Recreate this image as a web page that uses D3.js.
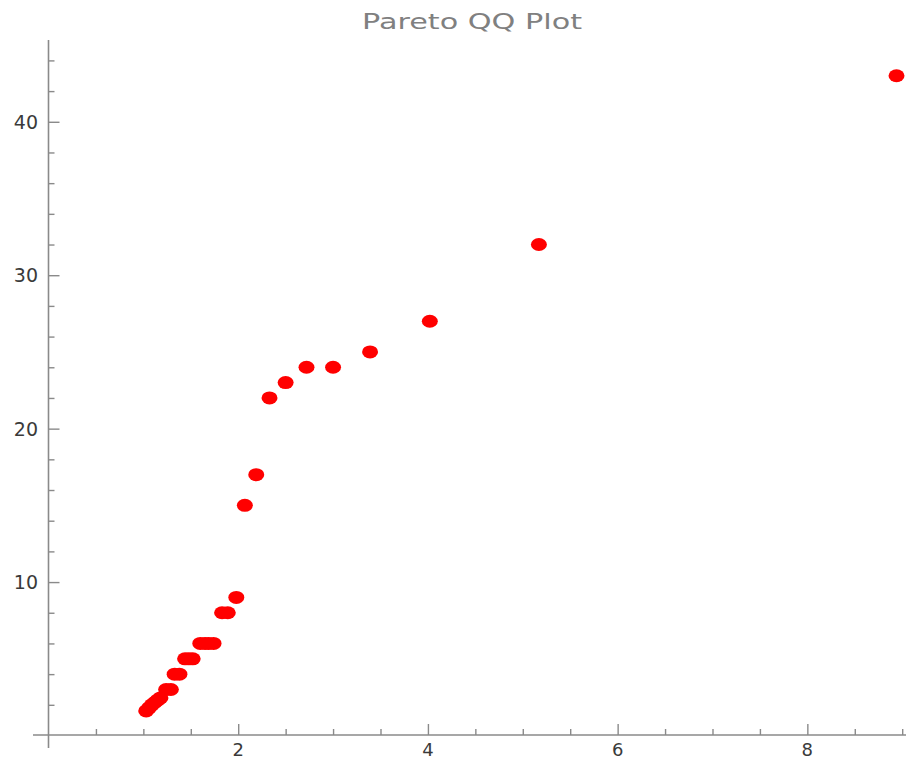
<!DOCTYPE html>
<html>
<head>
<meta charset="utf-8">
<script src="https://cdn.jsdelivr.net/npm/d3@7"></script>
<style>
  html, body { margin: 0; padding: 0; background: #fff; }
  svg { display: block; }
</style>
</head>
<body>
<svg id="chart" width="906" height="760"></svg>
<script>
// ---- data (theoretical Pareto quantile, sample value) ----
const title = "Pareto QQ Plot";
const quantiles = [8.94, 5.17, 4.02, 3.39, 3.0, 2.72, 2.5, 2.33, 2.19, 2.07, 1.98, 1.89, 1.83,
                   1.74, 1.69, 1.65, 1.60, 1.52, 1.48, 1.44, 1.38, 1.33, 1.29, 1.24,
                   1.18, 1.15, 1.12, 1.09, 1.06, 1.03];
const samples   = [43, 32, 27, 25, 24, 24, 23, 22, 17, 15, 9, 8, 8,
                   6, 6, 6, 6, 5, 5, 5, 4, 4, 3, 3,
                   2.45, 2.3, 2.15, 2.0, 1.8, 1.6];
const xTicks = [2, 4, 6, 8];
const yTicks = [10, 20, 30, 40];

const svg = d3.select("#chart");
const x = d3.scaleLinear().domain([0, 9.04]).range([48.5, 906]);
const y = d3.scaleLinear().domain([0, 45.2]).range([735.5, 42]);

const axisColor = "#8a8a8a";
const labelColor = "#3a3a3a";

// x axis line (extends a bit left of the y axis)
svg.append("line").attr("x1", 33).attr("x2", 906)
  .attr("y1", 735).attr("y2", 735)
  .attr("stroke", axisColor).attr("stroke-width", 1.6);
// y axis line (extends a bit below x axis)
svg.append("line").attr("x1", x(0)).attr("x2", x(0))
  .attr("y1", 748).attr("y2", 40)
  .attr("stroke", axisColor).attr("stroke-width", 1.6);

// x ticks (inward = upward)
const xMinor = d3.range(0.5, 9.01, 0.5).filter(v => !xTicks.includes(v));
const xAxisMajor = d3.axisTop(x).tickValues(xTicks).tickSize(11).tickFormat("");
const xAxisMinor = d3.axisTop(x).tickValues(xMinor).tickSize(6).tickFormat("");
[xAxisMajor, xAxisMinor].forEach(ax => {
  const g = svg.append("g").attr("transform", `translate(0,735)`).call(ax);
  g.select(".domain").remove();
  g.selectAll("line").attr("stroke", axisColor).attr("stroke-width", 1.4);
});
svg.append("g").selectAll("text").data(xTicks).join("text")
  .attr("x", d => x(d)).attr("y", 756)
  .attr("text-anchor", "middle")
  .attr("font-family", "DejaVu Sans, sans-serif").attr("font-size", 18)
  .attr("fill", labelColor)
  .text(d => d);

// y ticks (inward = rightward)
const yMinor = d3.range(2, 45.01, 2).filter(v => !yTicks.includes(v));
const yAxisMajor = d3.axisRight(y).tickValues(yTicks).tickSize(11).tickFormat("");
const yAxisMinor = d3.axisRight(y).tickValues(yMinor).tickSize(6).tickFormat("");
[yAxisMajor, yAxisMinor].forEach(ax => {
  const g = svg.append("g").attr("transform", `translate(${x(0)},0)`).call(ax);
  g.select(".domain").remove();
  g.selectAll("line").attr("stroke", axisColor).attr("stroke-width", 1.4);
});
svg.append("g").selectAll("text").data(yTicks).join("text")
  .attr("x", 38).attr("y", d => y(d) + 7)
  .attr("text-anchor", "end")
  .attr("font-family", "DejaVu Sans, sans-serif").attr("font-size", 19)
  .attr("fill", labelColor)
  .text(d => d);

// title
svg.append("text")
  .attr("x", 472).attr("y", 29)
  .attr("text-anchor", "middle")
  .attr("font-family", "DejaVu Sans, sans-serif").attr("font-size", 22)
  .attr("fill", "#808080")
  .attr("textLength", 220).attr("lengthAdjust", "spacingAndGlyphs")
  .text(title);

// points
const pts = quantiles.map((q, i) => ({ q, s: samples[i] }));
svg.append("g").selectAll("ellipse").data(pts).join("ellipse")
  .attr("cx", d => x(d.q)).attr("cy", d => y(d.s))
  .attr("rx", 8).attr("ry", 6.5)
  .attr("fill", "#ff0000");
</script>
</body>
</html>
